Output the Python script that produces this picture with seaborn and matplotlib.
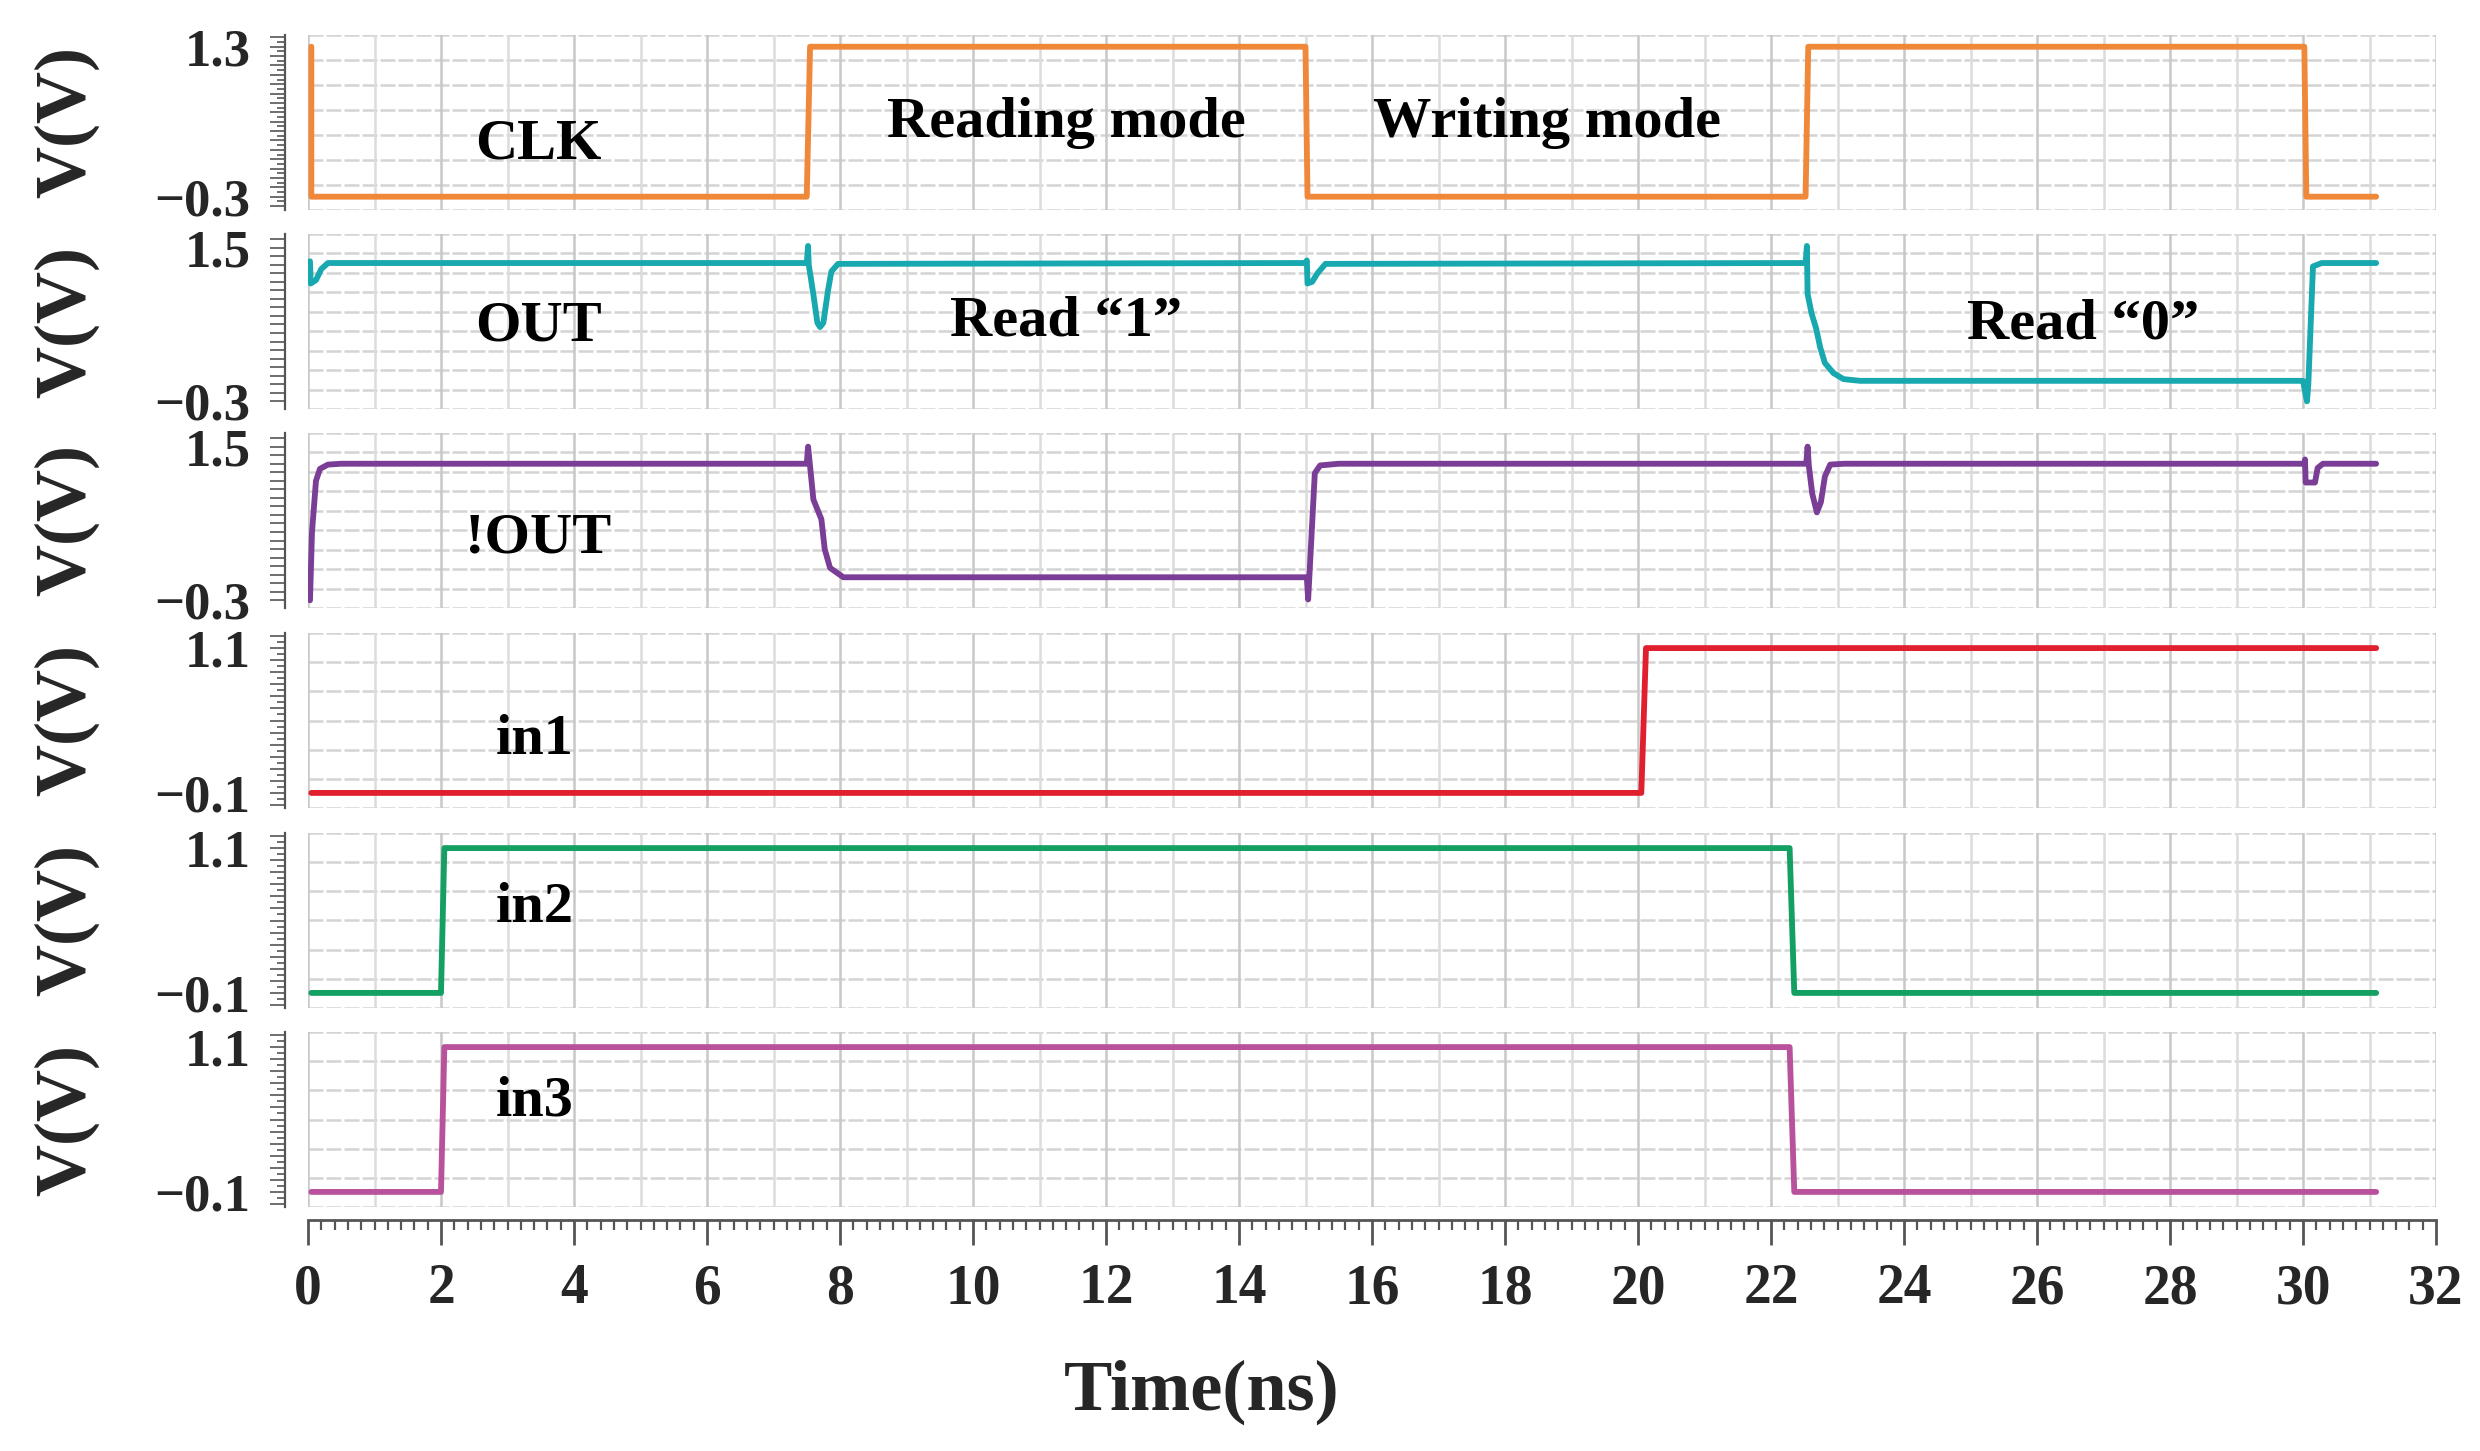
import matplotlib
matplotlib.use('Agg')

import numpy as np
import seaborn as sns
import matplotlib.pyplot as plt
from matplotlib.ticker import MultipleLocator, FuncFormatter, NullLocator

sns.set_theme(style='white')
plt.rcParams['font.family'] = ['Liberation Serif', 'DejaVu Serif']
plt.rcParams['font.weight'] = 'bold'

# ---------- waveforms (time in ns, voltage in V) ----------
clk_t = [0.05, 0.05, 7.50, 7.55, 15.00, 15.03, 22.52, 22.56, 30.02, 30.05, 31.10]
clk_v = [1.30, -0.30, -0.30, 1.30, 1.30, -0.30, -0.30, 1.30, 1.30, -0.30, -0.30]

out_t = [0.03, 0.04, 0.12, 0.20, 0.30,
         7.50, 7.52, 7.53, 7.60, 7.66, 7.70, 7.75, 7.82, 7.87, 7.97,
         15.00, 15.02, 15.03, 15.10, 15.18, 15.30,
         22.52, 22.54, 22.55, 22.61, 22.68, 22.74, 22.81, 22.94, 23.09, 23.34,
         30.00, 30.06, 30.08, 30.15, 30.28, 31.10]
out_v = [1.34, 1.08, 1.12, 1.25, 1.32,
         1.32, 1.52, 1.30, 0.95, 0.62, 0.57, 0.62, 1.00, 1.22, 1.31,
         1.32, 1.35, 1.08, 1.10, 1.20, 1.31,
         1.32, 1.52, 0.96, 0.73, 0.55, 0.33, 0.15, 0.03, -0.04, -0.06,
         -0.06, -0.30, -0.10, 1.28, 1.32, 1.32]

nout_t = [0.03, 0.06, 0.12, 0.18, 0.30, 0.50,
          7.50, 7.52, 7.55, 7.60, 7.72, 7.77, 7.85, 8.05,
          15.02, 15.04, 15.14, 15.22, 15.50,
          22.53, 22.55, 22.57, 22.62, 22.69, 22.75, 22.81, 22.89, 23.10,
          30.02, 30.03, 30.04, 30.18, 30.22, 30.30, 31.10]
nout_v = [-0.30, 0.50, 1.10, 1.24, 1.29, 1.30,
          1.30, 1.50, 1.27, 0.88, 0.65, 0.30, 0.08, -0.03,
          -0.03, -0.29, 1.19, 1.28, 1.30,
          1.30, 1.50, 1.27, 0.95, 0.73, 0.85, 1.15, 1.29, 1.30,
          1.30, 1.35, 1.08, 1.08, 1.25, 1.30, 1.30]

in1_t = [0.05, 20.05, 20.12, 31.10]
in1_v = [-0.10, -0.10, 1.10, 1.10]

in2_t = [0.05, 2.00, 2.05, 22.28, 22.35, 31.10]
in2_v = [-0.10, -0.10, 1.10, 1.10, -0.10, -0.10]

in3_t = [0.05, 2.00, 2.05, 22.28, 22.35, 31.10]
in3_v = [-0.10, -0.10, 1.10, 1.10, -0.10, -0.10]

# axis label values shown on each panel (min / max)
clk_ticks = [-0.3, 1.3]
out_ticks = [-0.3, 1.5]
in_ticks = [-0.1, 1.1]

# annotations: (text, time, voltage)
notes = [
    [('CLK', 3.46, 0.26), ('Reading mode', 11.4, 0.49), ('Writing mode', 18.63, 0.49)],
    [('OUT', 3.46, 0.58), ('Read \u201c1\u201d', 11.4, 0.63), ('Read \u201c0\u201d', 26.7, 0.60)],
    [('!OUT', 3.46, 0.42)],
    [('in1', 3.41, 0.34)],
    [('in2', 3.41, 0.60)],
    [('in3', 3.41, 0.65)],
]

panels = [
    (clk_t, clk_v, '#F0883A', (-0.442, 1.425), 7, clk_ticks, 0.05),
    (out_t, out_v, '#17A8B0', (-0.39, 1.66), 9, out_ticks, None),
    (nout_t, nout_v, '#7A3E96', (-0.39, 1.66), 9, out_ticks, None),
    (in1_t, in1_v, '#E0202E', (-0.225, 1.225), 6, in_ticks, 0.05),
    (in2_t, in2_v, '#13A062', (-0.225, 1.225), 6, in_ticks, 0.05),
    (in3_t, in3_v, '#B9529C', (-0.225, 1.225), 6, in_ticks, 0.05),
]

W, H = 2480, 1451
fig = plt.figure(figsize=(W / 200, H / 200), dpi=200)
tops = [35, 234, 433, 633, 833, 1032]
left, right, ph = 308, 2436, 175

axes = []
for i, (t, v, col, ylim, ngrid, labs, mstep) in enumerate(panels):
    ax = fig.add_axes([left / W, 1 - (tops[i] + ph) / H, (right - left) / W, ph / H])
    axes.append(ax)
    ax.set_xlim(0, 32)
    ax.set_ylim(*ylim)

    # simulator style grid
    for y in np.linspace(ylim[0], ylim[1], ngrid + 1):
        ax.axhline(y, color='#D4D4D4', lw=0.9, ls=(0, (6, 1.2)), zorder=0)
    for x in range(33):
        ax.axvline(x, color='#C8C8C8' if x % 2 == 0 else '#DCDCDC', lw=0.9, zorder=0)

    sns.lineplot(x=t, y=v, ax=ax, color=col, linewidth=2.1,
                 estimator=None, sort=False, zorder=3)

    for txt, tx, ty in notes[i]:
        ax.text(tx, ty, txt, ha='center', va='center', fontsize=21,
                fontweight='bold', color='black', zorder=4)

    for s in ['top', 'right', 'bottom']:
        ax.spines[s].set_visible(False)
    ax.spines['left'].set_position(('outward', 8.3))
    ax.spines['left'].set_color('#555555')
    ax.spines['left'].set_linewidth(0.8)

    ax.yaxis.set_major_locator(MultipleLocator(0.1))
    ax.yaxis.set_major_formatter(FuncFormatter(
        lambda val, p, labs=labs: f'{val:.1f}'.replace('-', '\u2212')
        if any(abs(val - L) < 1e-6 for L in labs) else ''))
    if mstep:
        ax.yaxis.set_minor_locator(MultipleLocator(mstep))
    else:
        ax.yaxis.set_minor_locator(NullLocator())
    ax.tick_params(axis='y', which='major', direction='out', left=True, length=5.4,
                   width=0.6, color='#555555', pad=7, labelsize=19)
    ax.tick_params(axis='y', which='minor', direction='out', left=True, length=2.9,
                   width=0.6, color='#555555')

    ax.set_ylabel('V(V)', fontsize=26, fontweight='bold', va='center')
    ax.yaxis.set_label_coords(-0.1137, 0.5)
    ax.set_xlabel('')

    if i < len(panels) - 1:
        ax.tick_params(axis='x', which='both', bottom=False, labelbottom=False)

# bottom time axis
ax = axes[-1]
ax.spines['bottom'].set_visible(True)
ax.spines['bottom'].set_position(('outward', 4.7))
ax.spines['bottom'].set_color('#555555')
ax.spines['bottom'].set_linewidth(1.0)
ax.xaxis.set_major_locator(MultipleLocator(2))
ax.xaxis.set_minor_locator(MultipleLocator(0.2))
ax.tick_params(axis='x', which='major', direction='out', bottom=True, length=9,
               width=1.0, color='#555555', pad=6.5, labelsize=20)
ax.tick_params(axis='x', which='minor', direction='out', bottom=True, length=3.6,
               width=0.8, color='#555555')
ax.set_xlabel('Time(ns)', fontsize=26, fontweight='bold')
ax.xaxis.set_label_coords(0.42, -1.057)
ax.xaxis.label.set_va('center')

fig.savefig('out.png', dpi=200)
